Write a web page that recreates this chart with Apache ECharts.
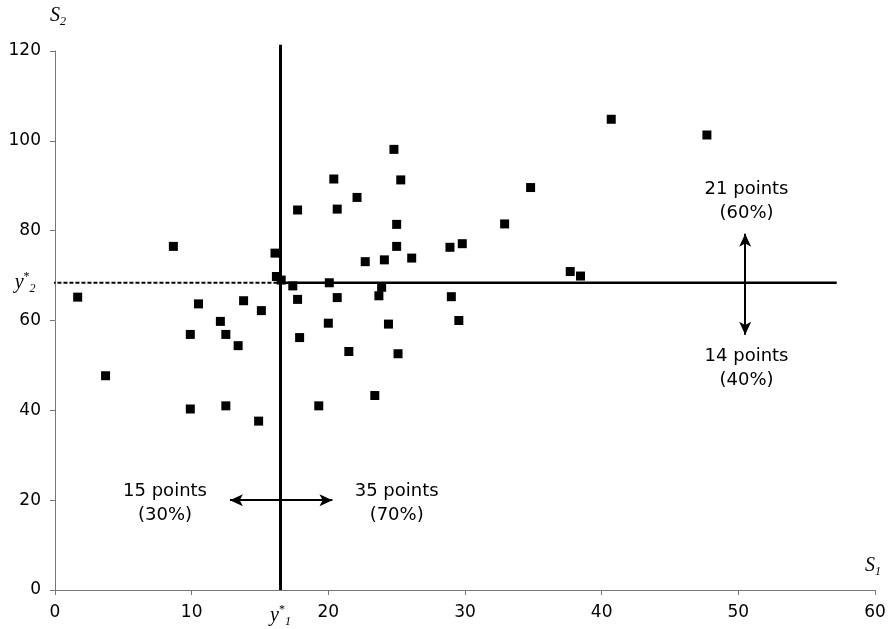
<!DOCTYPE html>
<html>
<head>
<meta charset="utf-8">
<script src="https://cdn.jsdelivr.net/npm/echarts@6/dist/echarts.min.js"></script>
<style>html,body{margin:0;padding:0;background:#fff}#c{width:889px;height:629px}</style>
</head>
<body>
<div id="c"></div>
<script>
// ---- data ----
var s1 = [1.66, 3.7, 8.66, 9.9, 9.9, 10.5, 12.1, 12.5, 12.5, 13.4, 13.8, 14.9, 15.1, 16.1, 16.2,
          16.55, 17.4, 17.75, 17.75, 17.9, 19.3, 20.0, 20.07, 20.4, 20.65, 20.65, 21.5, 22.1, 22.7, 23.4,
          23.7, 23.9, 24.1, 24.4, 24.8, 25.0, 25.0, 25.1, 25.3, 26.1, 28.9, 29.0, 29.55, 29.8, 32.9,
          34.8, 37.7, 38.45, 40.7, 47.7];
var s2 = [65.2, 47.7, 76.5, 56.9, 40.3, 63.7, 59.8, 56.9, 41.0, 54.4, 64.4, 37.6, 62.2, 75.0, 69.8,
          69.0, 67.7, 64.7, 84.6, 56.2, 41.0, 59.4, 68.4, 91.5, 84.8, 65.1, 53.1, 87.4, 73.1, 43.3,
          65.5, 67.4, 73.5, 59.2, 98.1, 81.4, 76.5, 52.6, 91.3, 73.9, 76.3, 65.3, 60.0, 77.1, 81.5,
          89.6, 70.9, 69.9, 104.8, 101.3];
var y1Star = 16.5;      // threshold on S1
var y2Star = 68.4;      // threshold on S2
var xTicks = [0, 10, 20, 30, 40, 50, 60];
var yTicks = [0, 20, 40, 60, 80, 100, 120];
var vLineTop = 121.4;
var hLineLeft = -0.7;
var hLineRight = 57.2;
var hArrow = [12.8, 20.3, 20];     // x from, x to, at y
var vArrow = [50.5, 79.3, 56.8];   // at x, y from, y to
var notes = [
  {name: '21 points\n(60%)', value: [50.6, 86.6]},
  {name: '14 points\n(40%)', value: [50.6, 49.4]},
  {name: '15 points\n(30%)', value: [8.05, 19.4]},
  {name: '35 points\n(70%)', value: [25.0, 19.4]}
];

var pts = s1.map(function (x, i) { return [x, s2[i]]; });
var FONT = 'DejaVu Sans';
var SERIF = 'Liberation Serif';
var richY = {
  i: {fontFamily: SERIF, fontStyle: 'italic', fontSize: 20, color: '#000', lineHeight: 24},
  sup: {fontFamily: SERIF, fontSize: 12, color: '#000', verticalAlign: 'top', lineHeight: 24},
  sub: {fontFamily: SERIF, fontStyle: 'italic', fontSize: 12, color: '#000', verticalAlign: 'bottom', lineHeight: 24}
};

var chart = echarts.init(document.getElementById('c'), null, {renderer: 'canvas'});
chart.setOption({
  animation: false,
  backgroundColor: '#fff',
  grid: {left: 55, right: 14, top: 51, bottom: 39, containLabel: false},
  xAxis: {
    type: 'value', min: 0, max: 60, interval: 10,
    splitLine: {show: false},
    axisLine: {show: true, lineStyle: {color: '#777', width: 1}},
    axisTick: {show: true, length: 5, lineStyle: {color: '#777'}, customValues: xTicks},
    axisLabel: {
      customValues: xTicks.concat([y1Star]),
      margin: 14, color: '#000', fontFamily: FONT, fontSize: 17,
      formatter: function (v) { return Math.abs(v - y1Star) < 1e-6 ? '{i|y}{sup|*}{sub|1}' : String(v); },
      rich: richY
    }
  },
  yAxis: {
    type: 'value', min: 0, max: 120, interval: 20,
    splitLine: {show: false},
    axisLine: {show: true, lineStyle: {color: '#777', width: 1}},
    axisTick: {show: true, length: 5, lineStyle: {color: '#777'}, customValues: yTicks},
    axisLabel: {
      customValues: yTicks.concat([y2Star]),
      margin: 14, color: '#000', fontFamily: FONT, fontSize: 17,
      formatter: function (v) { return Math.abs(v - y2Star) < 1e-6 ? '{i|y}{sup|*}{sub|2} ' : String(v); },
      rich: richY
    }
  },
  graphic: [
    {type: 'text', left: 50, top: 6, style: {rich: {
      i: {fontFamily: SERIF, fontStyle: 'italic', fontSize: 20, fill: '#000', lineHeight: 24},
      sub: {fontFamily: SERIF, fontStyle: 'italic', fontSize: 12, fill: '#000', verticalAlign: 'bottom', lineHeight: 24}
    }, text: '{i|S}{sub|2}'}},
    {type: 'text', left: 865, top: 556, style: {rich: {
      i: {fontFamily: SERIF, fontStyle: 'italic', fontSize: 20, fill: '#000', lineHeight: 24},
      sub: {fontFamily: SERIF, fontStyle: 'italic', fontSize: 12, fill: '#000', verticalAlign: 'bottom', lineHeight: 24}
    }, text: '{i|S}{sub|1}'}}
  ],
  series: [
    {
      type: 'line', clip: false, symbol: 'none', silent: true,
      data: [[y1Star, 0], [y1Star, vLineTop]],
      lineStyle: {color: '#000', width: 3}
    },
    {
      type: 'line', clip: false, symbol: 'none', silent: true,
      data: [[y1Star, y2Star], [hLineRight, y2Star]],
      lineStyle: {color: '#000', width: 2.5}
    },
    {
      type: 'line', clip: false, symbol: 'none', silent: true,
      data: [[hLineLeft, y2Star], [y1Star, y2Star]],
      lineStyle: {color: '#000', width: 2, type: [4, 2]}
    },
    {
      type: 'scatter', symbol: 'rect', symbolSize: 9, silent: true,
      itemStyle: {color: '#000', opacity: 1},
      data: pts,
      z: 5
    },
    {
      type: 'scatter', symbolSize: 0, silent: true,
      itemStyle: {opacity: 1},
      data: notes,
      label: {
        show: true, position: 'inside', formatter: '{b}',
        fontFamily: FONT, fontSize: 18, lineHeight: 24, color: '#000', align: 'center'
      },
      markLine: {
        silent: true, symbol: ['arrow', 'arrow'], symbolSize: [9, 13],
        label: {show: false},
        lineStyle: {color: '#000', width: 2, type: 'solid', opacity: 1},
        data: [
          [{coord: [hArrow[0], hArrow[2]]}, {coord: [hArrow[1], hArrow[2]]}],
          [{coord: [vArrow[0], vArrow[1]]}, {coord: [vArrow[0], vArrow[2]]}]
        ]
      }
    }
  ]
});
</script>
</body>
</html>
